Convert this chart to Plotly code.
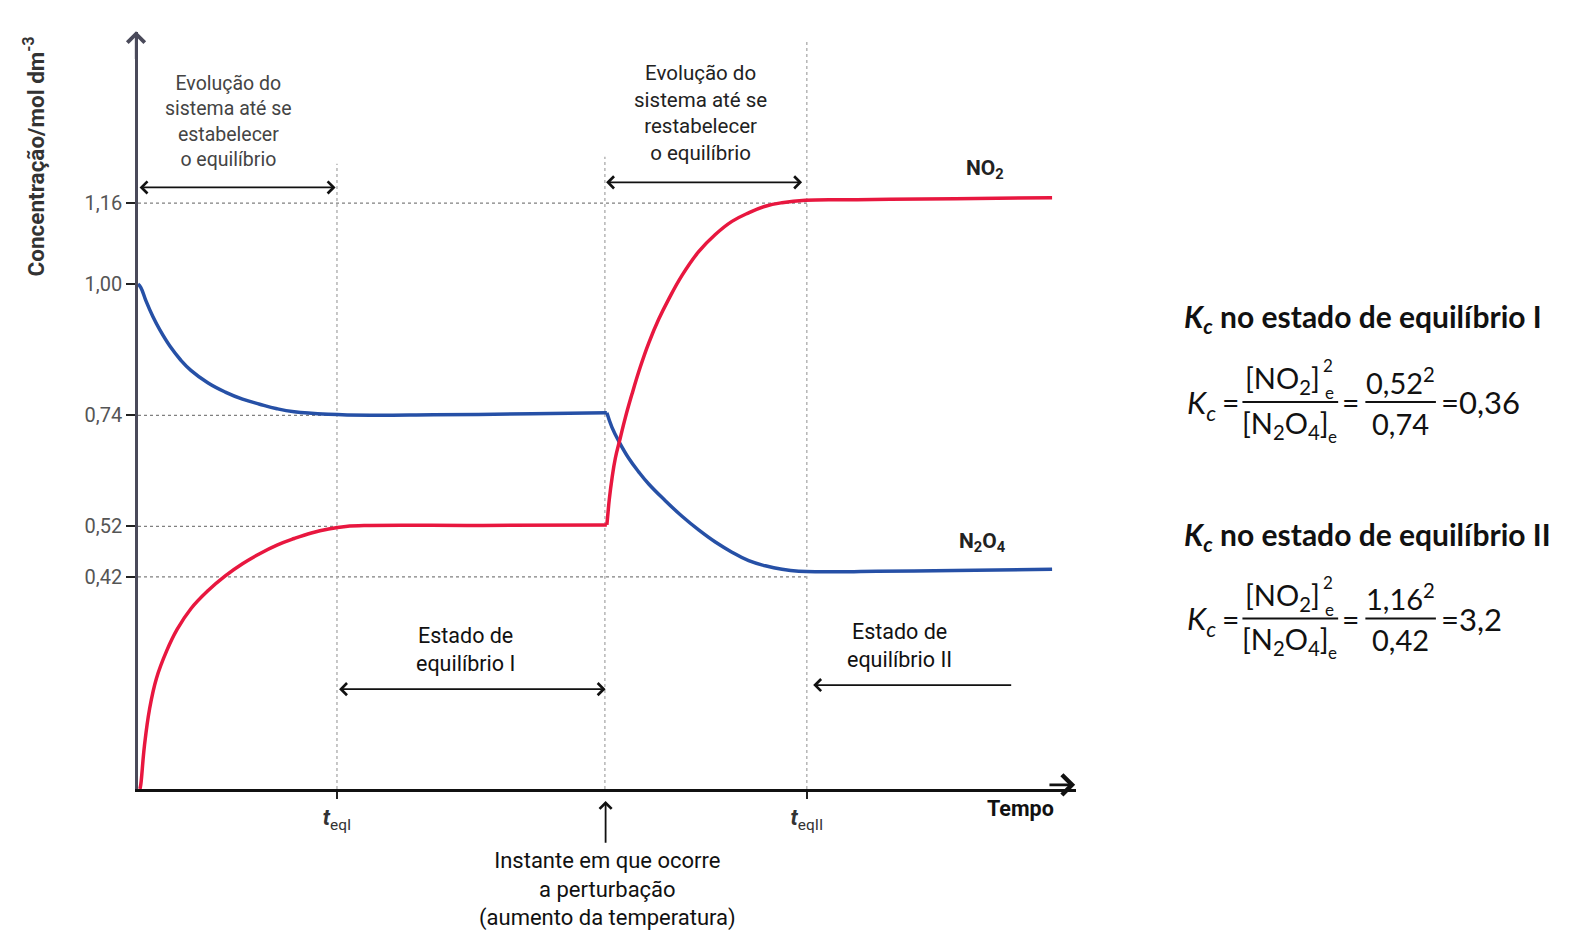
import plotly.graph_objects as go

# ---------------- data ----------------
# time in arbitrary units; concentrations in mol dm^-3
t_n2o4_a = [0, 0.029, 0.082, 0.152, 0.222, 0.327, 0.431, 0.537, 0.712, 0.886, 1.061, 1.235, 1.411, 1.586,
            1.935, 2.355, 3.0, 4.0, 4.76]
c_n2o4_a = [1.00, 0.993, 0.966, 0.935, 0.909, 0.876, 0.850, 0.829, 0.804, 0.786, 0.772, 0.762, 0.753, 0.747,
            0.742, 0.740, 0.741, 0.743, 0.745]
t_n2o4_b = [4.76, 4.812, 4.88, 4.982, 5.083, 5.185, 5.353, 5.523, 5.692, 5.861, 6.03, 6.2, 6.369, 6.538,
            6.708, 6.944, 7.5, 8.5, 9.28]
c_n2o4_b = [0.745, 0.716, 0.689, 0.655, 0.628, 0.604, 0.571, 0.540, 0.513, 0.489, 0.469, 0.452, 0.442, 0.435,
            0.431, 0.430, 0.431, 0.433, 0.435]

t_no2_a = [0.02, 0.029, 0.065, 0.117, 0.187, 0.292, 0.397, 0.537, 0.712, 0.886, 1.061, 1.235, 1.411, 1.586,
           1.760, 1.935, 2.110, 2.355, 3.5, 4.76]
c_no2_a = [0, 0.010, 0.085, 0.158, 0.219, 0.274, 0.316, 0.357, 0.393, 0.422, 0.446, 0.466, 0.483, 0.496,
           0.507, 0.515, 0.520, 0.522, 0.522, 0.523]
t_no2_b = [4.76, 4.761, 4.772, 4.785, 4.812, 4.846, 4.896, 4.947, 5.015, 5.10, 5.185, 5.286, 5.388, 5.523,
           5.692, 5.861, 6.03, 6.2, 6.369, 6.538, 6.775, 7.3, 8.3, 9.28]
c_no2_b = [0.523, 0.525, 0.548, 0.574, 0.615, 0.655, 0.695, 0.735, 0.782, 0.836, 0.883, 0.930, 0.970, 1.017,
           1.064, 1.098, 1.124, 1.141, 1.154, 1.161, 1.166, 1.167, 1.169, 1.171]

y_tick_vals = [0.42, 0.52, 0.74, 1.00, 1.16]
y_tick_text = ["0,42", "0,52", "0,74", "1,00", "1,16"]

T_EQ1 = 2.02       # t_eqI
T_PERT = 4.74      # instant of the perturbation
T_EQ2 = 6.79       # t_eqII
x_tick_vals = [T_EQ1, T_EQ2]
x_tick_text = ["<b><i>t</i></b><sub>eqI</sub>", "<b><i>t</i></b><sub>eqII</sub>"]

# guide lines: (value, time up to which the dotted line is drawn)
h_guides = [(1.16, T_EQ2), (0.74, T_EQ1), (0.52, T_EQ1), (0.42, T_EQ2)]
v_guides = [(T_EQ1, 1.238), (T_PERT, 1.252), (T_EQ2, 1.479)]

# ---------------- layout geometry ----------------
W_FIG, H_FIG = 1580, 940
OFF = 8  # page body margin
ML, MR, MT, MB = 130, 512, 24, 159
PW = W_FIG - ML - MR
PH = H_FIG - MT - MB
X_RANGE = [0, PW / 98.5]
Y_RANGE = [0, PH / 505.0]
SX, SY = 1580 / 1568, 940 / 933   # positions below measured on a 1568x933 view

def px(x):
    return (x * SX - OFF - ML) / PW

def py(y):
    return (H_FIG - MB - (y * SY - OFF)) / PH

NARROW = "Roboto, Liberation Sans Narrow, DejaVu Sans Condensed, sans-serif"
FORM = "Lato, Noto Sans, sans-serif"
RED = "#e8173f"
BLUE = "#2650a6"

fig = go.Figure()
for tx, cy, col in [(t_n2o4_a, c_n2o4_a, BLUE), (t_n2o4_b, c_n2o4_b, BLUE),
                    (t_no2_a, c_no2_a, RED), (t_no2_b, c_no2_b, RED)]:
    fig.add_trace(go.Scatter(x=tx, y=cy, mode="lines",
                             line=dict(color=col, width=3.5, shape="spline", smoothing=1.2),
                             hoverinfo="skip", showlegend=False))

shapes = []
for val, tend in h_guides:
    shapes.append(dict(type="line", xref="x", yref="y", x0=0, x1=tend, y0=val, y1=val,
                       line=dict(color="#808080", width=1.3, dash="dot"), layer="below"))
for tv, top in v_guides:
    shapes.append(dict(type="line", xref="x", yref="y", x0=tv, x1=tv, y0=0, y1=top,
                       line=dict(color="#aaaaaa", width=1.3, dash="dot"), layer="below"))

annotations = []

def text(x, y, s, size=19, color="#222", family=NARROW, xanchor="center", yanchor="middle", align="center", angle=0):
    annotations.append(dict(x=px(x), y=py(y), xref="paper", yref="paper", text=s, showarrow=False,
                            font=dict(size=size, color=color, family=family), xanchor=xanchor,
                            yanchor=yanchor, align=align, textangle=angle))

def arrow(xh, yh, xt, yt, both=False, width=1.8, size=1.3, color="#111"):
    annotations.append(dict(x=px(xh), y=py(yh), xref="paper", yref="paper",
                            ax=(xt - xh) * SX, ay=(yt - yh) * SY,
                            text="", showarrow=True, arrowhead=4, startarrowhead=4,
                            arrowside="end+start" if both else "end", arrowwidth=width,
                            arrowsize=size, startarrowsize=size, arrowcolor=color))

# axis arrow heads
arrow(135, 31, 135, 60, width=2.4, size=1.4, color="#4a4a5a")
arrow(1067, 779, 1040, 779, width=2.6, size=1.5, color="#111")

# y axis title
text(33, 155, "<b>Concentração/mol dm<sup>-3</sup></b>", size=22.5, color="#333", angle=-90)

# left top annotation
text(227, 121, "Evolução do<br>sistema até se<br>estabelecer<br>o equilíbrio", size=19.5, color="#444")
arrow(333, 186, 137, 186, both=True)
# right top annotation
text(695, 112, "Evolução do<br>sistema até se<br>restabelecer<br>o equilíbrio", size=20.5, color="#222")
arrow(796, 181, 600, 181, both=True)

# curve labels
text(978, 168, "<b>NO<sub>2</sub></b>", size=21, color="#222")
text(975, 538, "<b>N<sub>2</sub>O<sub>4</sub></b>", size=21, color="#222")

# equilibrium states
text(462, 645, "Estado de<br>equilíbrio I", size=21.5, color="#111")
arrow(601, 684, 335, 684, both=True)
text(893, 641, "Estado de<br>equilíbrio II", size=21.5, color="#111")
arrow(807, 680, 1005, 680)

# bottom
text(1013, 802, "<b>Tempo</b>", size=21.5, color="#111")
arrow(601, 795, 601, 838)
text(603, 883, "Instante em que ocorre<br>a perturbação<br>(aumento da temperatura)", size=22, color="#111")

# ---------------- Kc formulas ----------------
def kc_block(y_title, y_mid, label, num2, den2, result):
    text(1173, y_title, "<b><i>K</i><sub><i>c</i></sub> no estado de equilíbrio " + label + "</b>",
         size=30, color="#111", family=FORM, xanchor="left")
    text(1192, y_mid + 2, "<i>K</i><sub><i>c</i></sub>", size=31, color="#111", family=FORM)
    text(1221, y_mid, "=", size=30, color="#111", family=FORM)
    text(1273, y_mid - 22, "[NO<sub>2</sub>]", size=29, color="#111", family=FORM)
    text(1318, y_mid - 36, "2", size=17, color="#111", family=FORM)
    text(1319, y_mid - 9, "e", size=17, color="#111", family=FORM)
    text(1276, y_mid + 22, "[N<sub>2</sub>O<sub>4</sub>]", size=29, color="#111", family=FORM)
    text(1322, y_mid + 34, "e", size=17, color="#111", family=FORM)
    shapes.append(dict(type="line", xref="paper", yref="paper", x0=px(1233), x1=px(1328), y0=py(y_mid), y1=py(y_mid),
                       line=dict(color="#111", width=2)))
    text(1340, y_mid, "=", size=30, color="#111", family=FORM)
    text(1390, y_mid - 21, num2 + "<sup>2</sup>", size=29, color="#111", family=FORM)
    shapes.append(dict(type="line", xref="paper", yref="paper", x0=px(1355), x1=px(1425), y0=py(y_mid), y1=py(y_mid),
                       line=dict(color="#111", width=2)))
    text(1390, y_mid + 21, den2, size=29, color="#111", family=FORM)
    text(1428, y_mid, "=" + result, size=31, color="#111", family=FORM, xanchor="left")

kc_block(316, 399, "I", "0,52", "0,74", "0,36")
kc_block(532, 614, "II", "1,16", "0,42", "3,2")

fig.update_layout(
    width=W_FIG, height=H_FIG,
    margin=dict(l=ML, r=MR, t=MT, b=MB),
    paper_bgcolor="white", plot_bgcolor="white",
    shapes=shapes, annotations=annotations,
    xaxis=dict(range=X_RANGE, showgrid=False, zeroline=False, showline=True, linecolor="#111", linewidth=3,
               tickmode="array", tickvals=x_tick_vals, ticktext=x_tick_text, ticks="outside",
               ticklen=7, tickwidth=2, tickcolor="#222",
               tickfont=dict(size=22, color="#333", family=NARROW), fixedrange=True),
    yaxis=dict(range=Y_RANGE, showgrid=False, zeroline=False, showline=True, linecolor="#4a4a5a", linewidth=2.5,
               tickmode="array", tickvals=y_tick_vals, ticktext=y_tick_text, ticks="outside",
               ticklen=9, tickwidth=2, tickcolor="#222",
               tickfont=dict(size=20, color="#555", family=NARROW), fixedrange=True),
)

fig.write_html("out.html")
